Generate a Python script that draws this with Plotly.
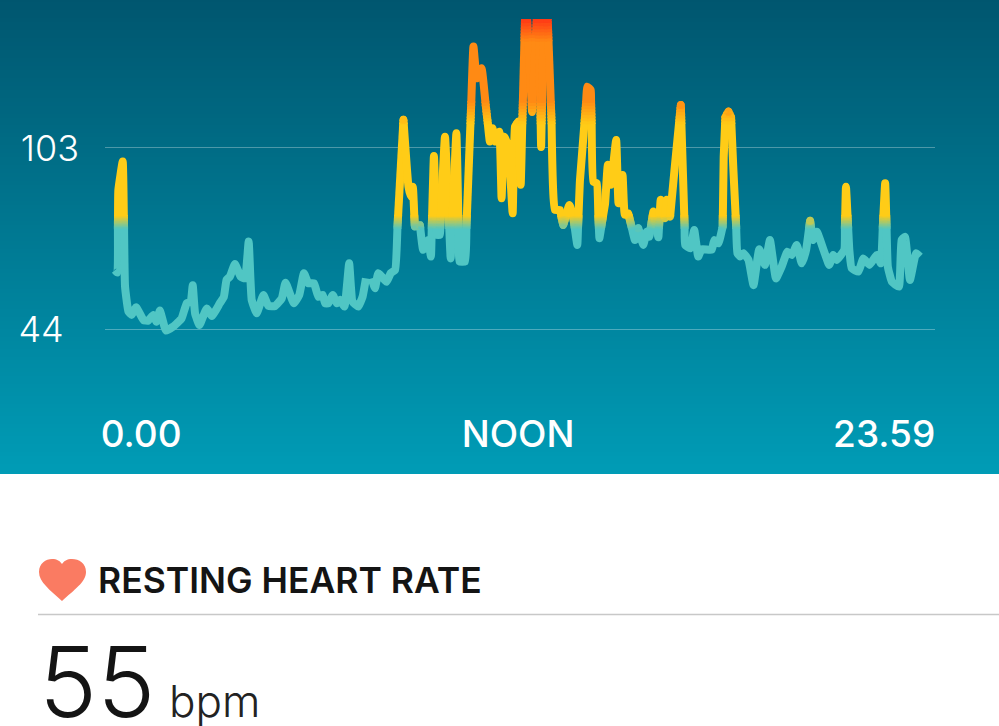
import numpy as np
import plotly.graph_objects as go

W, H = 999, 726
FONT = "Inter"

# time of day (hours) and heart rate (bpm); None marks the gap in the record
HOURS = [0, .07, .10, .23, .27, .30, .40, .50, .63, .85, .99, 1.14, 1.24, 1.34, 1.52, 1.74, 1.99, 2.14, 2.26, 2.32,
         2.39, 2.52, 2.74, 2.89, 3.13, 3.25, 3.33, 3.43, 3.58, 3.75, 3.88, 3.99, 4.08, 4.23, 4.43, 4.58, 4.78, 4.98,
         5.09, 5.34, 5.50, 5.64, 5.77, 5.94, 6.07, 6.20, 6.27, 6.37, 6.50, 6.62, 6.72, 6.85, 6.99, 7.09, 7.26, 7.39,
         7.49, None, 7.66, 7.76, 7.86, 8.11, 8.23, 8.36, 8.61, 8.76, 8.83, 8.89, 8.95, 9.10, 9.20, 9.35, 9.43, 9.52,
         9.60, 9.70, 9.85, 10.02, 10.19, 10.28, 10.45, 10.70, 10.80, 10.94, 11.19, 11.27, 11.34, 11.47, 11.54, 11.62,
         11.74, 11.87, 11.94, 12.04, 12.11, 12.25, 12.28, 12.45, 12.61, 12.64, 12.72, 12.81, 12.90, 13.13, 13.28,
         13.38, 13.56, 13.66, 13.80, 13.88, 14.10, 14.20, 14.28, 14.38, 14.46, 14.63, 14.71, 14.80, 14.96, 15.03,
         15.15, 15.22, 15.32, 15.52, 15.62, 15.77, 15.87, 15.95, 16.07, 16.22, 16.29, 16.42, 16.47, 16.57, 16.72,
         16.89, 17.02, 17.17, 17.29, 17.41, 17.51, 17.81, 17.89, 18.01, 18.14, 18.17, 18.22, 18.31, 18.39, 18.46,
         18.58, 18.66,
         18.76, 18.91, 19.06, 19.23, 19.40, 19.55, 19.73, 19.90, 20.07, 20.20, 20.35, 20.50, 20.63, 20.75, 20.83,
         20.95, 21.15, 21.32, 21.44, 21.54, 21.77, 21.82, 21.92, 21.99, 22.19, 22.34, 22.52, 22.74, 22.86, 22.99,
         23.07, 23.19, 23.40, 23.48, 23.58, 23.73, 23.91, 24.03]
BPM = [63.2, 62.4, 89.3, 98.6, 77.4, 57.8, 49.7, 48.6, 51.1, 46.9, 46.7, 48.6, 46.4, 50.0, 43.5, 44.8, 47.5, 52.4, 52.9,
       58.3, 49.1, 45.3, 50.7, 48.2, 52.4, 54.5, 60.0, 61.1, 65.2, 61.1, 60.5, 72.5, 53.5, 49.1, 55.1, 51.5, 51.5, 54.0,
       59.1, 52.4, 55.1, 62.2, 58.9, 58.9, 54.5, 55.1, 52.4, 52.4, 55.1, 52.4, 53.5, 51.3, 65.4, 52.9, 51.3, 54.5,
       60.5, None, 60.5, 57.3, 62.2, 59.4, 62.2, 63.2, 112.2, 90.4, 87.2, 90.4, 77.4, 77.9, 69.8, 73.0, 67.6, 100.4,
       74.7, 74.7, 106.7, 67.0, 107.8, 66.0, 66.0, 136.1, 125.7, 129.0, 105.1, 109.4, 105.1, 108.3, 86.6, 106.7,
       103.5, 81.7, 110.0, 111.6, 91.0, 149.6, 149.6, 114.7, 149.6, 149.6, 103.3, 149.6, 149.6, 82.8, 82.8,
       77.9, 84.4, 81.7, 71.4, 92.6, 123.0, 121.9, 92.0, 91.5, 73.6, 85.0, 97.5, 91.0, 105.6, 85.0,
       94.2, 81.2, 81.7, 73.0, 76.8, 71.4, 75.7, 74.1, 82.3, 73.9, 86.1, 80.1, 86.1, 80.6, 98.0,
       117.0, 71.4, 70.3, 76.3, 67.6, 70.0, 69.8, 73.0, 71.9, 77.4, 100.0, 113.0, 114.9, 113.0, 95.8,
       68.7, 67.6,
       68.7, 66.5, 58.3, 70.0, 64.9, 73.0, 60.5, 64.3, 69.2, 68.1, 71.4, 65.4, 69.8, 79.3, 73.0,
       75.7, 69.8, 64.9, 68.1, 66.5, 69.8, 90.4, 69.8, 63.8, 62.7, 67.0, 64.9, 68.1, 65.4, 91.5,
       64.3, 59.4, 57.8, 73.0, 74.1, 60.0, 68.7, 67.6]

Y_TICKS = [44, 103]
Y_LABELS = ["44\u2004\u200a", "103"]
X_TICKS = [0.78, 12.03, 22.96]
X_LABELS = ["0.00", "NOON", "23.59"]

# colour stops of the line against bpm
STOPS = [(76.9, (80, 198, 196)), (81.2, (255, 204, 23)), (111, (255, 204, 23)),
         (118.6, (255, 138, 20)), (138, (255, 138, 20)), (145, (255, 58, 22))]


def colour_at(v):
    vals = [s[0] for s in STOPS]
    return "rgb(%d,%d,%d)" % tuple(np.interp(v, vals, [s[1][i] for s in STOPS]) for i in range(3))


def band(lo, hi):
    xs, ys = [], []
    last = None
    for i in range(len(HOURS) - 1):
        if HOURS[i] is None or HOURS[i + 1] is None:
            continue
        x0, x1, y0, y1 = HOURS[i], HOURS[i + 1], BPM[i], BPM[i + 1]
        if max(y0, y1) < lo or min(y0, y1) > hi:
            continue
        t0, t1 = 0.0, 1.0
        if y1 != y0:
            ta, tb = (lo - y0) / (y1 - y0), (hi - y0) / (y1 - y0)
            t0, t1 = max(0, min(ta, tb)), min(1, max(ta, tb))
        pts = [(x0 + t0 * (x1 - x0), y0 + t0 * (y1 - y0)), (x0 + t1 * (x1 - x0), y0 + t1 * (y1 - y0))]
        if last is None or abs(last[0] - pts[0][0]) > 1e-9 or abs(last[1] - pts[0][1]) > 1e-9:
            if xs:
                xs.append(None)
                ys.append(None)
            xs.append(pts[0][0])
            ys.append(pts[0][1])
        xs.append(pts[1][0])
        ys.append(pts[1][1])
        last = pts[1]
    return xs, ys


edges = [0, 76.9] + list(np.arange(77.4, 81.3, .5)) + [111] + list(np.arange(112, 119, 1.0)) + [138] + \
        list(np.arange(139, 146, 1.0)) + [160]

fig = go.Figure()

# background gradient of the chart panel
rows = np.linspace(0, 1, 120)
fig.add_trace(go.Heatmap(z=[[r, r] for r in rows], x=[0, 1], y=rows, showscale=False, hoverinfo="skip",
                         colorscale=[[0, "#009CB6"], [1, "#00566F"]], xaxis="x", yaxis="y"))

for lo, hi in zip(edges[:-1], edges[1:]):
    xs, ys = band(lo - .25, hi + .25)
    if xs:
        fig.add_trace(go.Scatter(x=xs, y=ys, mode="lines", xaxis="x2", yaxis="y2", hoverinfo="skip",
                                 showlegend=False,
                                 line=dict(color=colour_at((lo + hi) / 2), width=8, shape="spline", smoothing=0.35)))


def v_at(py):
    return 44 + (329 - py) / 3.068


def t_at(px):
    return (px - 115) / 33.5


def paper(px, py):
    return px / W, 1 - py / H


heart = [(62, 601), (50, 590), (39, 582), (39, 572), (39, 563), (46, 559), (52, 559), (57, 559), (60, 561), (62, 564),
         (64, 561), (67, 559), (72, 559), (79, 559), (86, 563), (86, 572), (86, 582), (74, 590), (62, 601)]
hp = [paper(*p) for p in heart]
path = "M %f %f " % hp[0]
for i in range(1, len(hp), 3):
    path += "C %f %f %f %f %f %f " % (hp[i] + hp[i + 1] + hp[i + 2])
path += "Z"

fig.update_layout(
    width=W, height=H, margin=dict(l=0, r=0, t=0, b=0, autoexpand=False), paper_bgcolor="white",
    plot_bgcolor="rgba(0,0,0,0)", showlegend=False,
    font=dict(family=FONT, color="white"),
    xaxis=dict(domain=[0, 1], range=[0, 1], visible=False, fixedrange=True, automargin=False),
    yaxis=dict(domain=[1 - 474 / H, 1], range=[0, 1], visible=False, fixedrange=True, automargin=False),
    xaxis2=dict(domain=[105 / W, 935 / W], range=[t_at(105), t_at(935)], anchor="y2", tickvals=X_TICKS,
                ticktext=X_LABELS, showgrid=False, zeroline=False, showline=False, ticks="", ticklabelstandoff=4,
                automargin=False, tickfont=dict(family=FONT, size=37, color="white", weight=500), tickangle=0),
    yaxis2=dict(domain=[1 - 405 / H, 1 - 19 / H], range=[v_at(405), v_at(19)], anchor="x2", tickvals=Y_TICKS,
                ticktext=Y_LABELS, showgrid=True, gridcolor="rgba(255,255,255,0.3)", gridwidth=1.2, zeroline=False,
                automargin=False, showline=False, ticks="", ticklabelstandoff=25,
                tickfont=dict(family=FONT, size=36, color="white", weight=300)),
    shapes=[
        dict(type="path", xref="paper", yref="paper", path=path, fillcolor="#FA7B62", line=dict(width=0)),
        dict(type="line", xref="paper", yref="paper", x0=38 / W, x1=1, y0=1 - 614.5 / H, y1=1 - 614.5 / H,
             line=dict(color="#C8C8C8", width=1.3)),
    ],
    annotations=[
        dict(text="RESTING HEART RATE", xref="paper", yref="paper", x=96 / W, y=1 - 580 / H, xanchor="left",
             yanchor="middle", showarrow=False, font=dict(family=FONT, size=35.5, color="#141414", weight=600)),
        dict(text="55", xref="paper", yref="paper", x=37 / W, y=1 - 681 / H, xanchor="left", yanchor="middle",
             showarrow=False, font=dict(family=FONT, size=98, color="#141414", weight=300)),
        dict(text="bpm", xref="paper", yref="paper", x=167 / W, y=1 - 701 / H, xanchor="left", yanchor="middle",
             showarrow=False, font=dict(family=FONT, size=44, color="#222222", weight=300)),
    ],
)

fig.write_html("out.html", config=dict(displayModeBar=False),
               post_script="document.body.style.margin='0';document.body.style.overflow='hidden';")
